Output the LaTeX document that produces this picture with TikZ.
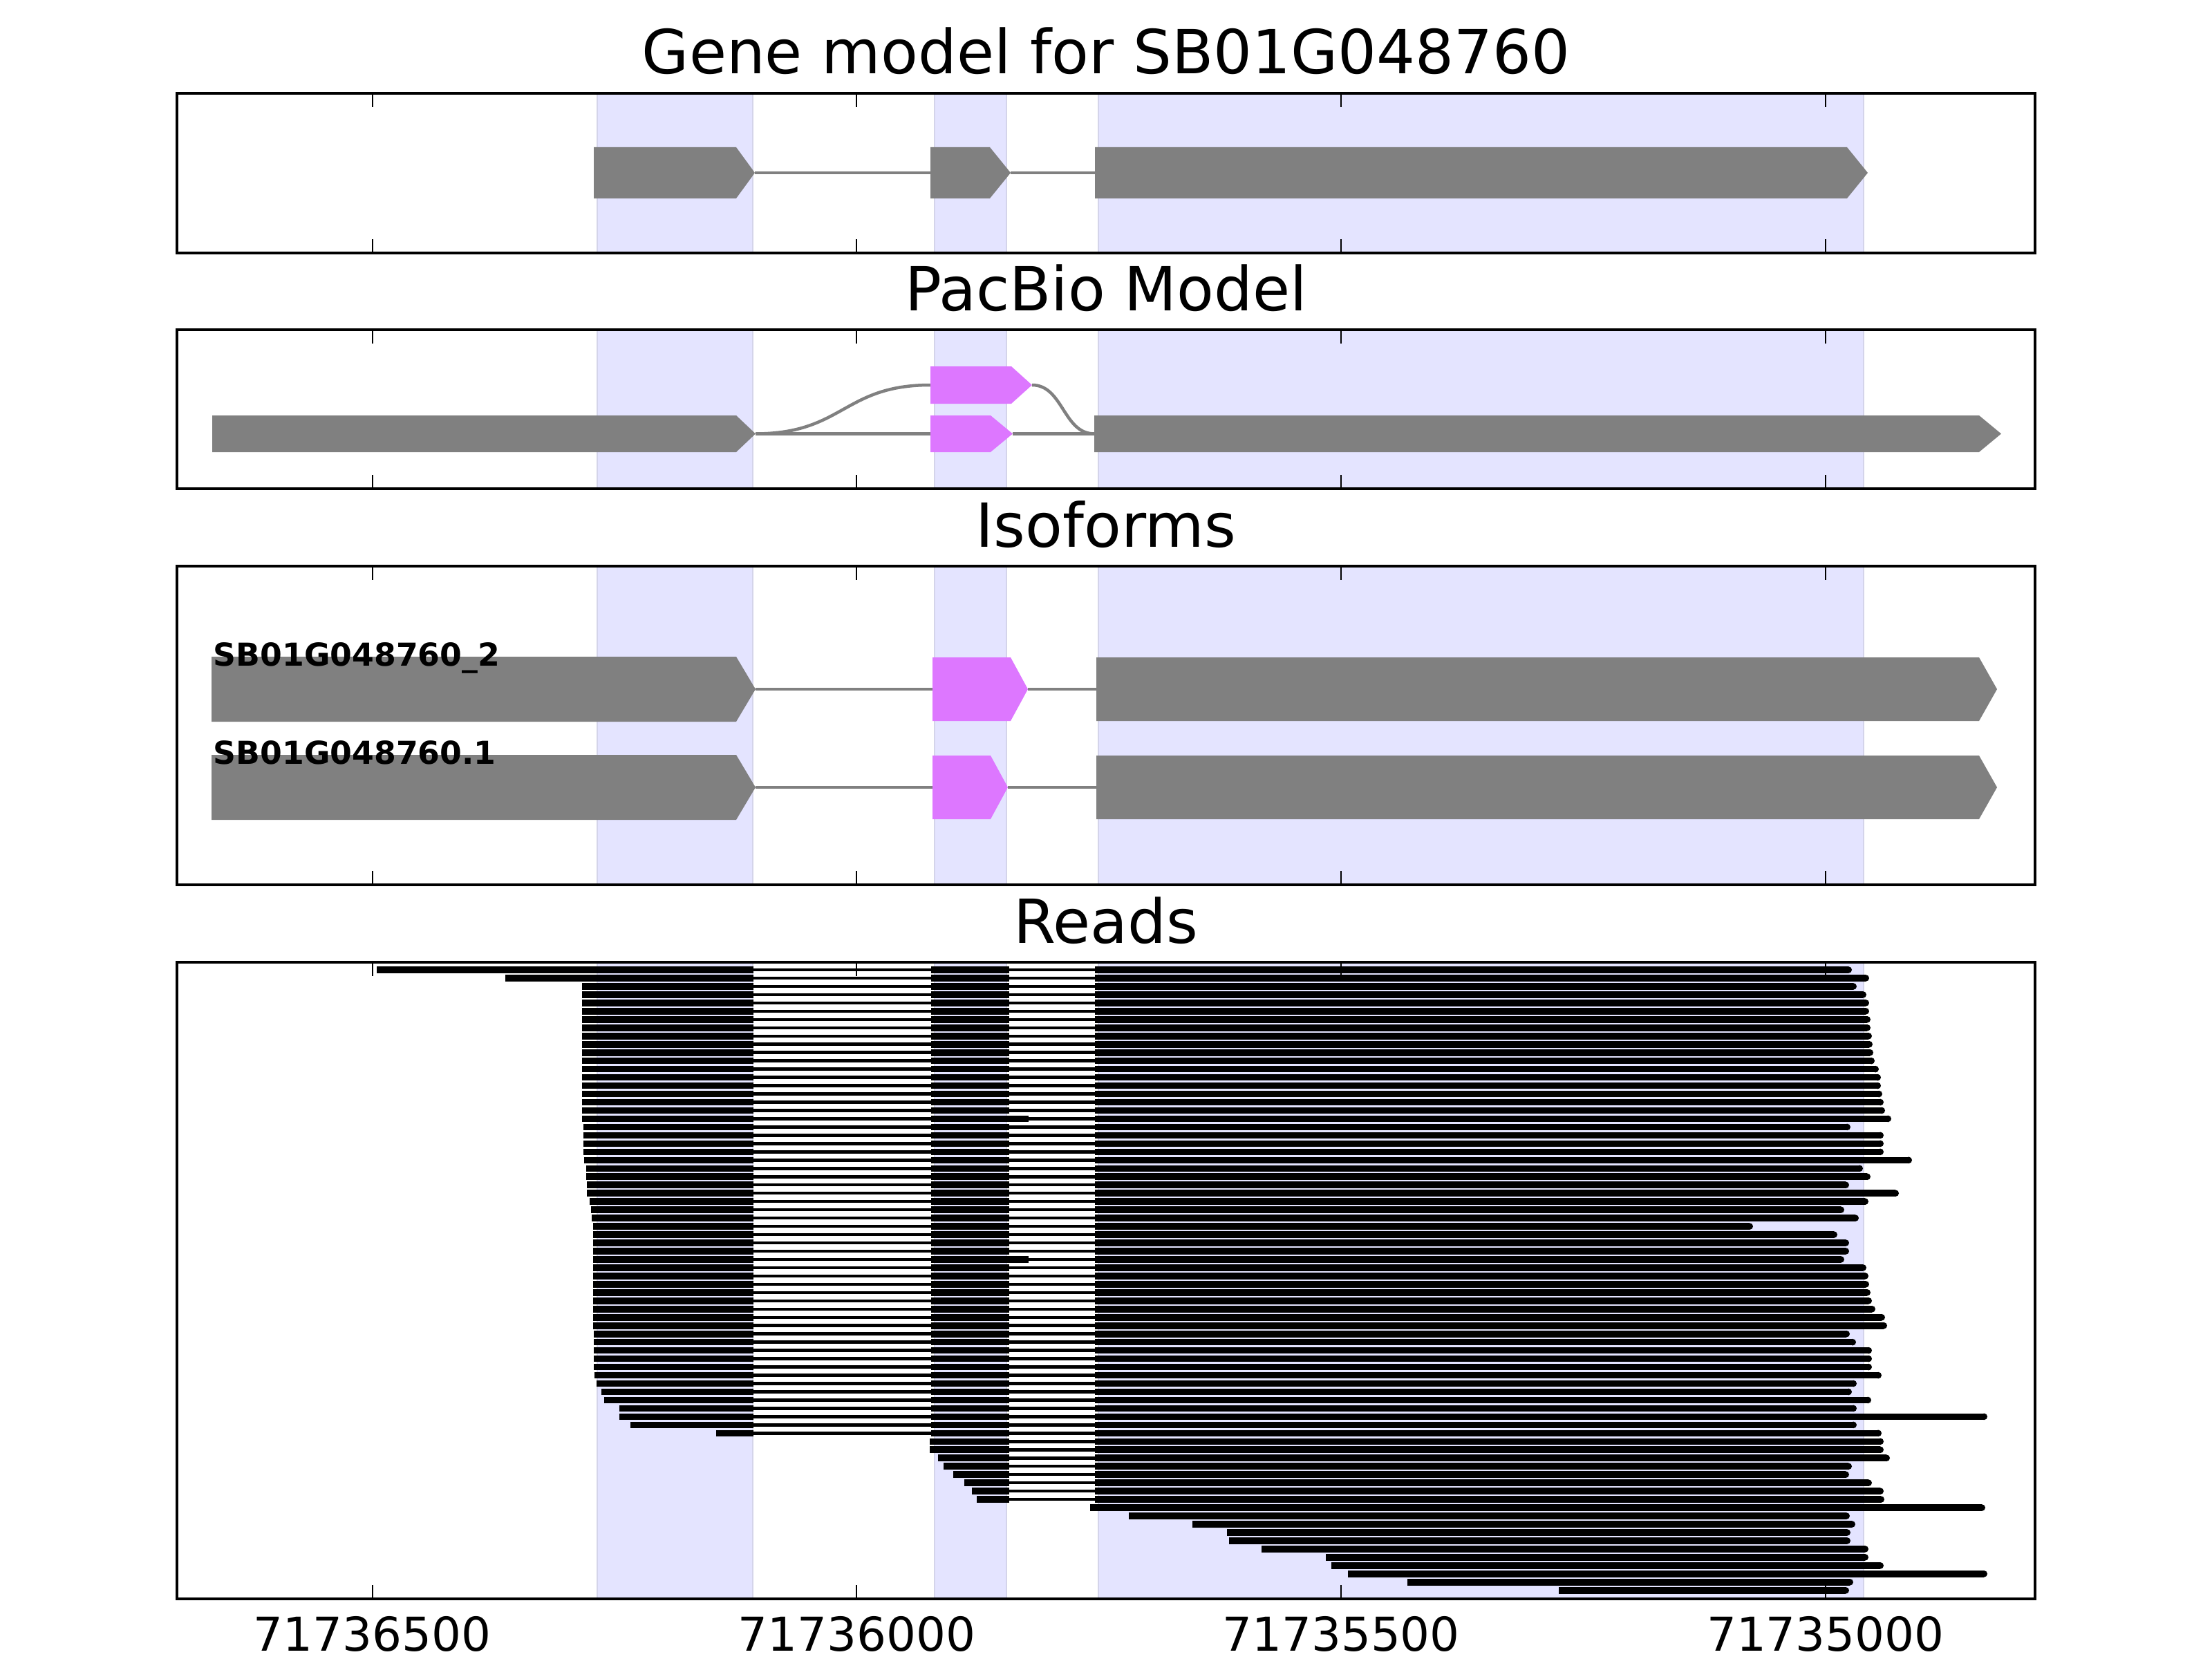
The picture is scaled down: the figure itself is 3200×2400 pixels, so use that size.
\documentclass[tikz,border=0pt]{standalone}
\usepackage{fontspec}
\setmainfont{DejaVu Sans}

% gene feature as a pointed box: [style]{start}{shoulder}{tip}{centre}{half height}
\newcommand{\exonarrow}[6][exon]{%
  \fill[#1] (#2,#5-#6) -- (#3,#5-#6) -- (#4,#5) -- (#3,#5+#6) -- (#2,#5+#6) -- cycle;}
% read block with a rounded end: {centre}{start}{end}
\newcommand{\readblock}[3]{%
  \fill[rd] (#2,#1-4.8) rectangle (#3-4.8,#1+4.8);
  \fill[rd] (#3-4.8,#1) circle[radius=4.8];}

\begin{document}
\begin{tikzpicture}[x=0.01cm, y=-0.01cm]
  % Settings
  \definecolor{exongray}{RGB}{128,128,128}
  \definecolor{cdspink}{RGB}{221,119,255}
  \definecolor{bandfill}{RGB}{228,228,255}
  \definecolor{bandedge}{RGB}{212,212,234}
  \tikzset{
    panelframe/.style={draw=black, line width=0.04cm},
    tickmark/.style={draw=black, line width=0.02cm},
    exonband/.style={fill=bandfill, draw=bandedge, line width=0.015cm},
    exon/.style={fill=exongray},
    cds/.style={fill=cdspink},
    intron/.style={draw=exongray, line width=0.045cm},
    rd/.style={fill=black},
    rdline/.style={draw=black, line width=0.045cm},
    ttl/.style={anchor=base, font=\fontsize{25}{30}\selectfont},
    ticklbl/.style={anchor=base, font=\fontsize{19.2}{23}\selectfont},
    isolbl/.style={anchor=base west, inner sep=0pt, font=\fontsize{13}{16}\selectfont\bfseries},
  }
  \useasboundingbox (0,0) rectangle (3200,2400);

  % Exon bands
  \foreach \pt/\pb in {135/366, 477/707, 819/1280, 1392/2313} {
    \foreach \a/\b in {864/1089, 1352/1456, 1589/2696}
      \filldraw[exonband] (\a,\pt) rectangle (\b,\pb);
  }

  % Gene model
  \exonarrow{859}{1065}{1092}{250}{37}
  \exonarrow{1346}{1432}{1462}{250}{37}
  \exonarrow{1584}{2672}{2702}{250}{37}
  \draw[intron] (1092,250) -- (1346,250) (1462,250) -- (1584,250);

  % PacBio model
  \draw[intron] (1093,627.5) -- (1346,627.5) (1465,627.5) -- (1583,627.5);
  \draw[intron] (1093,627.5) .. controls (1220,627.5) and (1220,557) .. (1346,557);
  \draw[intron] (1493,557) .. controls (1538,557) and (1538,627.5) .. (1583,627.5);
  \exonarrow{307}{1065}{1093}{627.5}{26.5}
  \exonarrow[cds]{1346}{1433}{1465}{627.5}{26.5}
  \exonarrow[cds]{1346}{1463}{1493}{557}{27}
  \exonarrow{1583}{2863}{2895}{627.5}{26.5}

  % Isoforms
  \draw[intron] (1093,997) -- (1349,997) (1487,997) -- (1586,997);
  \draw[intron] (1093,1139) -- (1349,1139) (1458,1139) -- (1586,1139);
  \exonarrow{306}{1065}{1093}{997}{47}
  \exonarrow[cds]{1349}{1462}{1487}{997}{46}
  \exonarrow{1586}{2863}{2889}{997}{46}
  \exonarrow{306}{1065}{1093}{1139}{47}
  \exonarrow[cds]{1349}{1433}{1458}{1139}{46}
  \exonarrow{1586}{2863}{2889}{1139}{46}
  \node[isolbl] (iso2) at (308,963) {SB01G048760\_2};
  \node[isolbl] (iso1) at (308,1105) {SB01G048760.1};

  % Reads over all three exons
  \foreach \i/\xs/\xm/\xe in {1/545/1460/2679, 2/731/1460/2704, 3/842/1460/2686,
      4/842/1460/2700, 5/842/1460/2704, 6/842/1460/2704, 7/842/1460/2706,
      8/842/1460/2706, 9/842/1460/2708, 10/842/1460/2709, 11/842/1460/2710,
      12/842/1460/2712, 13/842/1460/2718, 14/842/1460/2721, 15/842/1460/2721,
      16/842/1460/2723, 17/842/1460/2725, 18/842/1460/2727, 19/842/1488/2736,
      20/844/1460/2677, 21/844/1460/2725, 22/844/1460/2725, 23/844/1460/2725,
      24/845/1460/2766, 25/848/1460/2695, 26/848/1460/2706, 27/849/1460/2675,
      28/849/1460/2747, 29/853/1460/2703, 30/855/1460/2668, 31/856/1460/2689,
      32/858/1460/2536, 33/858/1460/2658, 34/858/1460/2675, 35/858/1460/2675,
      36/858/1488/2668, 37/858/1460/2700, 38/858/1460/2703, 39/858/1460/2704,
      40/858/1460/2706, 41/858/1460/2708, 42/858/1460/2713, 43/858/1460/2727,
      44/858/1460/2730, 45/859/1460/2676, 46/859/1460/2685, 47/859/1460/2708,
      48/859/1460/2708, 49/859/1460/2708, 50/860/1460/2722, 51/863/1460/2686,
      52/870/1460/2679, 53/874/1460/2707, 54/896/1460/2686, 55/896/1460/2875,
      56/912/1460/2686, 57/1036/1460/2722} {
    \pgfmathsetmacro{\yy}{1403+(\i-1)*11.97}
    \fill[rd] (\xs,\yy-4.8) rectangle (1090,\yy+4.8);
    \fill[rd] (1347,\yy-4.8) rectangle (\xm,\yy+4.8);
    \draw[rdline] (1090,\yy) -- (1347,\yy) (\xm,\yy) -- (1584,\yy);
    \readblock{\yy}{1584}{\xe}
  }

  % Reads from the second exon
  \foreach \i/\xs/\xe in {58/1345/2725, 59/1345/2725, 60/1357/2734, 61/1365/2679,
      62/1379/2675, 63/1395/2708, 64/1406/2725, 65/1413/2726} {
    \pgfmathsetmacro{\yy}{1403+(\i-1)*11.97}
    \fill[rd] (\xs,\yy-4.8) rectangle (1460,\yy+4.8);
    \draw[rdline] (1460,\yy) -- (1584,\yy);
    \readblock{\yy}{1584}{\xe}
  }

  % Reads in the last exon
  \foreach \i/\xs/\xe in {66/1577/2872, 67/1633/2676, 68/1725/2684, 69/1775/2677,
      70/1778/2677, 71/1825/2703, 72/1918/2703, 73/1926/2725, 74/1950/2875,
      75/2036/2681, 76/2255/2675} {
    \pgfmathsetmacro{\yy}{1403+(\i-1)*11.97}
    \readblock{\yy}{\xs}{\xe}
  }

  % Ticks and frames
  \foreach \pt/\pb in {135/366, 477/707, 819/1280, 1392/2313} {
    \foreach \tx in {538.5, 1239.3, 1940.1, 2640.9} {
      \draw[tickmark] (\tx,\pt) -- ++(0,20);
      \draw[tickmark] (\tx,\pb) -- ++(0,-20);
    }
    \draw[panelframe] (256,\pt) rectangle (2944,\pb);
  }

  % Tick labels
  \foreach \tx/\lab [count=\k] in {538.5/71736500, 1239.3/71736000, 1940.1/71735500, 2640.9/71735000}
    \node[ticklbl] (tick\k) at (\tx,2388) {\lab};

  % Titles
  \node[ttl] (genettl) at (1600,107) {Gene model for SB01G048760};
  \node[ttl] (pacbiottl) at (1600,449) {PacBio Model};
  \node[ttl] (isottl) at (1600,791) {Isoforms};
  \node[ttl] (readsttl) at (1600,1364) {Reads};

\end{tikzpicture}
\end{document}
